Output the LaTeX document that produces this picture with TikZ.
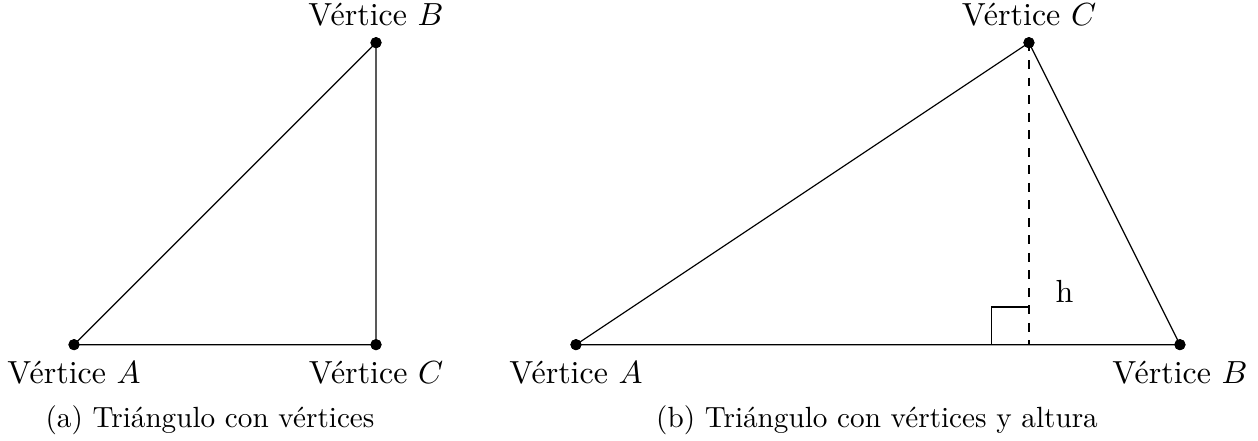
\documentclass[tikz,border=0pt]{standalone}
\usepackage{amsmath}
\usepackage{tikz}
\usetikzlibrary{calc}

\begin{document}
\begin{tikzpicture}[
    font=\fontsize{10.95}{13.6}\selectfont,
    pt/.style={circle, fill=black, inner sep=0pt, minimum size=3.8pt, label distance=-1.7pt},
    side/.style={draw=black, line width=0.4pt},
    alt/.style={draw=black, dashed},
    capt/.style={anchor=base, font=\fontsize{10}{12}\selectfont}
]
    \useasboundingbox (0,0) rectangle (15.143,5.308);

    % (a) triangulo con vertices
    \begin{scope}[shift={(0.891,1.159)}, x=1.8176cm, y=1.8176cm]
        \node [pt, label=below:{V\'ertice $A$}] (a1) at (0,0) {};
        \node [pt, label=above:{V\'ertice $B$}] (b1) at (2,2) {};
        \node [pt, label=below:{V\'ertice $C$}] (c1) at (2,0) {};
        \draw [side] (a1.center) -- (b1.center) -- (c1.center) -- (a1.center);
        \node [pt] at (a1) {};
        \node [pt] at (b1) {};
        \node [pt] at (c1) {};
    \end{scope}

    % (b) triangulo con vertices y altura
    \begin{scope}[shift={(6.933,1.159)}, x=1.8176cm, y=1.8176cm]
        \node [pt, label=below:{V\'ertice $A$}] (a2) at (0,0) {};
        \node [pt, label=below:{V\'ertice $B$}] (b2) at (4,0) {};
        \node [pt, label=above:{V\'ertice $C$}] (c2) at (3,2) {};
        \coordinate (h2) at (3,0);
        \draw [side] (a2.center) -- (b2.center) -- (c2.center) -- (a2.center);
        \draw [alt] (c2.center) -- (h2);
        \draw [side] ($(h2)+(-0.25,0)$) -- ++(0,0.25) -- ++(0.25,0);
        \node [anchor=base] (hl) at (3.235,0.278) {h};
        \node [pt] at (a2) {};
        \node [pt] at (b2) {};
        \node [pt] at (c2) {};
    \end{scope}

    \node [capt] (capa) at (2.528,0.156) {(a) Tri\'angulo con v\'ertices};
    \node [capt] (capb) at (10.557,0.156) {(b) Tri\'angulo con v\'ertices y altura};
\end{tikzpicture}
\end{document}
